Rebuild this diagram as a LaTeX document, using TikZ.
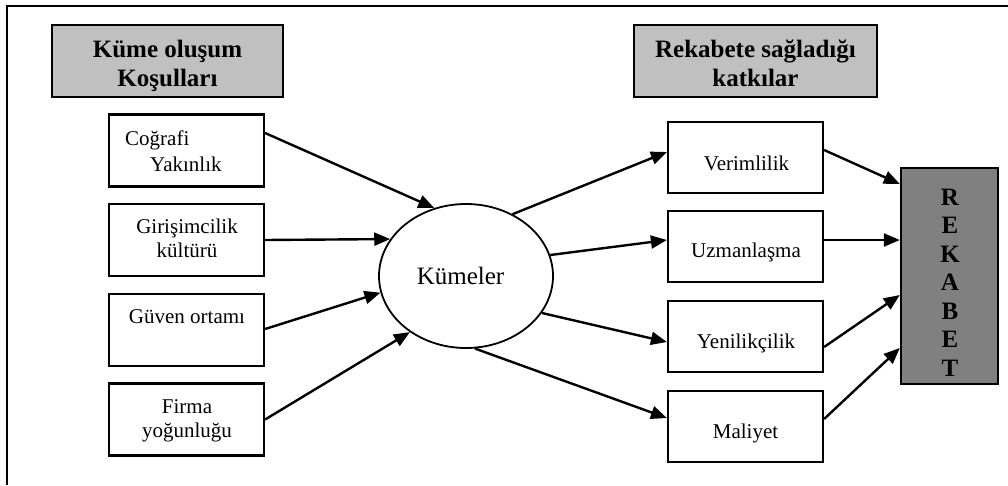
\documentclass[tikz,border=0pt]{standalone}
\usepackage{fontspec}
\setmainfont{Liberation Serif}
\usetikzlibrary{arrows.meta,shapes.geometric}

\definecolor{headgray}{HTML}{C0C0C0}
\definecolor{rekgray}{HTML}{808080}

\tikzset{
  frameline/.style={line width=2.4pt, black},
  headbox/.style={draw, line width=2.4pt, fill=headgray, minimum width=#1, minimum height=72pt, inner sep=0pt},
  itembox/.style={draw, line width=2.2pt, fill=white, minimum width=155pt, minimum height=72pt, inner sep=0pt},
  rekbox/.style={draw, line width=2.4pt, fill=rekgray, minimum width=97pt, minimum height=216pt, inner sep=0pt},
  hub/.style={draw, ellipse, line width=1.8pt, minimum width=174pt, minimum height=144pt, inner sep=0pt},
  txt/.style={anchor=base, inner sep=0pt, font=\fontsize{21}{24}\selectfont},
  ltxt/.style={anchor=base west, inner sep=0pt, font=\fontsize{21}{24}\selectfont},
  btxt/.style={anchor=base, inner sep=0pt, font=\fontsize{25}{29}\selectfont\bfseries},
  link/.style={line width=2.4pt, -{Triangle[length=16pt, width=13pt]}}
}

\begin{document}
\begin{tikzpicture}[x=1pt, y=-1pt]
  \useasboundingbox (0,0) rectangle (1008,485);

  % open frame: top and left edges
  \draw[frameline] (7,485) -- (7,6) -- (1008,6);

  % headers
  \node[headbox=231pt] (hl) at (167.5,61) {};
  \node[btxt] (hl1) at (167.5,57) {Küme oluşum};
  \node[btxt] (hl2) at (167.5,86) {Koşulları};

  \node[headbox=243pt] (hr) at (755.5,61) {};
  \node[btxt] (hr1) at (755.5,57) {Rekabete sağladığı};
  \node[btxt] (hr2) at (755.5,86) {katkılar};

  % conditions
  \node[itembox] (c1) at (186.5,150.5) {};
  \node[ltxt] (c1a) at (125,145) {Coğrafi};
  \node[ltxt] (c1b) at (150,171) {Yakınlık};

  \node[itembox] (c2) at (186.5,240) {};
  \node[txt] (c2a) at (187,233) {Girişimcilik};
  \node[txt] (c2b) at (187,257) {kültürü};

  \node[itembox] (c3) at (186.5,330) {};
  \node[txt] (c3a) at (187,323) {Güven ortamı};

  \node[itembox] (c4) at (186.5,419.5) {};
  \node[txt] (c4a) at (187,413) {Firma};
  \node[txt] (c4b) at (187,437) {yoğunluğu};

  % cluster
  \node[hub] (ell) at (466,276) {};
  \node[anchor=base, inner sep=0pt, font=\fontsize{25}{29}\selectfont] (ellt) at (460.5,284) {Kümeler};

  % contributions
  \node[itembox, minimum height=71pt] (r1) at (745.5,157.5) {};
  \node[txt] (r1a) at (746.5,170) {Verimlilik};
  \node[itembox, minimum height=71pt] (r2) at (745.5,246.5) {};
  \node[txt] (r2a) at (746,257) {Uzmanlaşma};
  \node[itembox, minimum height=71pt] (r3) at (745.5,336.5) {};
  \node[txt] (r3a) at (746,348) {Yenilikçilik};
  \node[itembox, minimum height=71pt] (r4) at (745.5,426.5) {};
  \node[txt] (r4a) at (745.5,438) {Maliyet};

  % competition
  \node[rekbox] (rek) at (949.5,276) {};
  \foreach \ch [count=\i from 0] in {R,E,K,A,B,E,T}
    \node[btxt] (rek\i) at (950,205+28.5*\i) {\ch};

  % conditions into clusters
  \draw[link] ([yshift=17.5pt]c1.east) -- (ell.115);
  \draw[link] (c2.east) -- (ell.154);
  \draw[link] ([yshift=1pt]c3.east) -- (ell.191);
  \draw[link] (c4.east) -- (ell.225);

  % clusters into contributions
  \draw[link] (ell.53) -- ([yshift=5.5pt]r1.west);
  \draw[link] (ell.14) -- ([yshift=6.5pt]r2.west);
  \draw[link] (ell.334) -- ([yshift=-5.5pt]r3.west);
  \draw[link] (ell.277) -- ([yshift=8.5pt]r4.west);

  % contributions into competition
  \draw[link] ([yshift=7.5pt]r1.east) -- ([yshift=92pt]rek.west);
  \draw[link] ([yshift=6.5pt]r2.east) -- ([yshift=36pt]rek.west);
  \draw[link] ([yshift=-10.5pt]r3.east) -- ([yshift=-19pt]rek.west);
  \draw[link] ([yshift=7.5pt]r4.east) -- ([yshift=-72pt]rek.west);
\end{tikzpicture}
\end{document}
